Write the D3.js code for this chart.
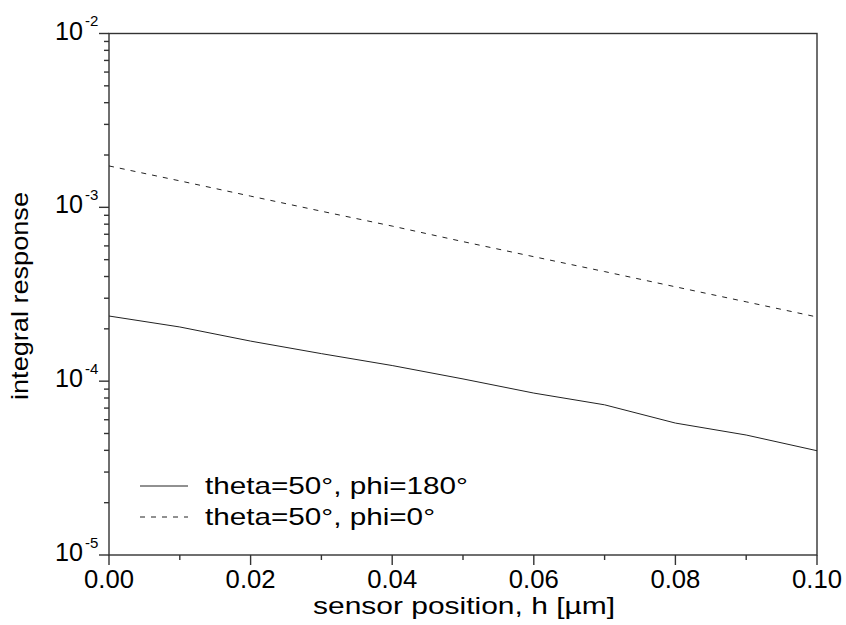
<html>
<head>
<script src="https://d3js.org/d3.v7.min.js"></script>
<style>
body { margin: 0; background: #fff; }
svg { font-family: Arial, "Liberation Sans", sans-serif; }
</style>
</head>
<body>
<svg width="846" height="625"></svg>
<script>
  // values
  var hPos = [0.00, 0.01, 0.02, 0.03, 0.04, 0.05, 0.06, 0.07, 0.08, 0.09, 0.10];
  var phi180 = [2.37e-4, 2.05e-4, 1.70e-4, 1.44e-4, 1.23e-4, 1.03e-4, 8.54e-5, 7.31e-5, 5.74e-5, 4.90e-5, 3.98e-5];
  var phi0 = [1.73e-3, 1.42e-3, 1.16e-3, 9.5e-4, 7.8e-4, 6.35e-4, 5.2e-4, 4.27e-4, 3.49e-4, 2.86e-4, 2.34e-4];
  var seriesNames = ["theta=50°, phi=180°", "theta=50°, phi=0°"];
  var xMajor = [0, 0.02, 0.04, 0.06, 0.08, 0.10];
  var yDecades = [-2, -3, -4, -5];

  var svg = d3.select("svg");
  var pL = 109, pR = 817, pT = 33.5, pB = 555;

  var x = d3.scaleLinear().domain([0, 0.1]).range([pL, pR]);
  var y = d3.scaleLog().domain([1e-5, 1e-2]).range([pB, pT]);

  // minor ticks
  var xMinor = d3.range(1, 10, 2).map(function(k){ return k / 100; });
  var yMinor = [];
  yDecades.slice(1).forEach(function(e){
    for (var m = 2; m <= 9; m++) yMinor.push(m * Math.pow(10, e));
  });

  var axes = svg.append("g").attr("stroke", "#333").attr("stroke-width", 1.4);

  axes.selectAll("line.xmaj").data(xMajor).enter().append("line")
    .attr("x1", d => x(d)).attr("x2", d => x(d))
    .attr("y1", pB).attr("y2", pB + 10);
  axes.selectAll("line.xmin").data(xMinor).enter().append("line")
    .attr("x1", d => x(d)).attr("x2", d => x(d))
    .attr("y1", pB).attr("y2", pB + 5);
  axes.selectAll("line.ymaj").data(yDecades).enter().append("line")
    .attr("x1", pL - 10).attr("x2", pL)
    .attr("y1", d => y(Math.pow(10, d))).attr("y2", d => y(Math.pow(10, d)));
  axes.selectAll("line.ymin").data(yMinor).enter().append("line")
    .attr("x1", pL - 5).attr("x2", pL)
    .attr("y1", d => y(d)).attr("y2", d => y(d));

  // frame
  axes.append("rect")
    .attr("x", pL).attr("y", pT)
    .attr("width", pR - pL).attr("height", pB - pT)
    .attr("fill", "none");

  // tick labels
  svg.selectAll("text.xt").data(xMajor).enter().append("text")
    .attr("x", d => x(d)).attr("y", 588)
    .attr("text-anchor", "middle").attr("font-size", 25)
    .attr("textLength", 50).attr("lengthAdjust", "spacingAndGlyphs")
    .text(d => d3.format(".2f")(d));

  var yl = svg.selectAll("g.yt").data(yDecades).enter().append("g");
  yl.append("text")
    .attr("x", 83).attr("y", d => y(Math.pow(10, d)) + 6)
    .attr("text-anchor", "end").attr("font-size", 25)
    .attr("textLength", 28).attr("lengthAdjust", "spacingAndGlyphs")
    .text("10");
  yl.append("text")
    .attr("x", 85).attr("y", d => y(Math.pow(10, d)) - 7.5)
    .attr("font-size", 15)
    .text(d => "-" + Math.abs(d));

  // axis titles
  svg.append("text")
    .attr("x", 464).attr("y", 614)
    .attr("text-anchor", "middle").attr("font-size", 24)
    .attr("textLength", 302).attr("lengthAdjust", "spacingAndGlyphs")
    .text("sensor position, h [µm]");
  svg.append("text")
    .attr("transform", "translate(28,296) rotate(-90)")
    .attr("text-anchor", "middle").attr("font-size", 24)
    .attr("textLength", 208).attr("lengthAdjust", "spacingAndGlyphs")
    .text("integral response");

  // lines
  var line = d3.line().x((d, i) => x(hPos[i])).y(d => y(d));
  var dashes = [null, "5,6"];
  [phi180, phi0].forEach(function(s, i){
    svg.append("path").datum(s)
      .attr("d", line)
      .attr("fill", "none")
      .attr("stroke", "#222")
      .attr("stroke-width", 1)
      .attr("stroke-dasharray", dashes[i]);
  });

  // legend
  var legY = [486, 517], legLen = [263, 230];
  var leg = svg.selectAll("g.legend").data(seriesNames).enter().append("g");
  leg.append("line")
    .attr("x1", 140).attr("x2", 188)
    .attr("y1", (d, i) => legY[i]).attr("y2", (d, i) => legY[i])
    .attr("stroke", "#222").attr("stroke-width", 1)
    .attr("stroke-dasharray", (d, i) => dashes[i]);
  leg.append("text")
    .attr("x", 205).attr("y", (d, i) => legY[i] + 8)
    .attr("font-size", 24)
    .attr("textLength", (d, i) => legLen[i]).attr("lengthAdjust", "spacingAndGlyphs")
    .text(d => d);
</script>
</body>
</html>
